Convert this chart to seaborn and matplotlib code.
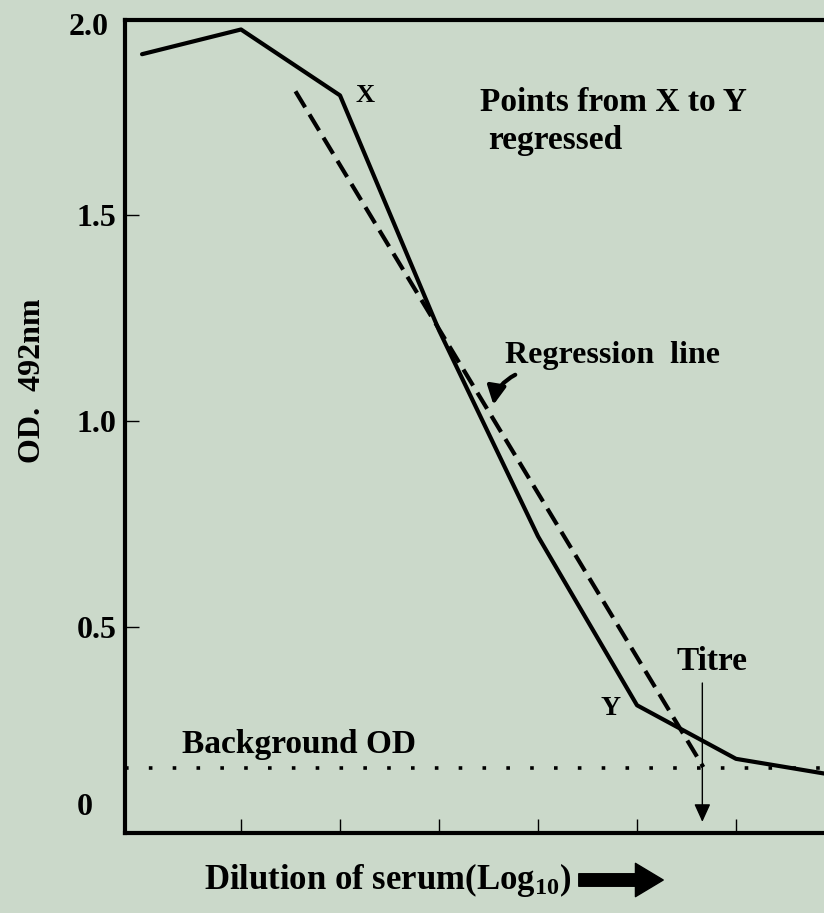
import seaborn as sns
import matplotlib.pyplot as plt
import pandas as pd

# data
dilution = [0, 1, 2, 3, 4, 5, 6, 7]
od = [1.89, 1.95, 1.79, 1.22, 0.72, 0.31, 0.18, 0.14]
reg_x = [1.55, 5.67]
reg_y = [1.80, 0.16]
background_od = 0.158
titre = 5.66
ytick_vals = [0.5, 1.0, 1.5]
ytick_labels = ["0.5", "1.0", "1.5"]
xtick_vals = [1, 2, 3, 4, 5, 6]

bg = "#cbd9ca"
sns.set_theme(style="ticks")
plt.rcParams["font.family"] = ["Liberation Serif", "DejaVu Serif"]
plt.rcParams["font.weight"] = "bold"
plt.rcParams["text.color"] = "black"
plt.rcParams["xtick.color"] = "black"
plt.rcParams["ytick.color"] = "black"
plt.rcParams["mathtext.fontset"] = "custom"
plt.rcParams["mathtext.rm"] = "Liberation Serif:bold"
plt.rcParams["mathtext.it"] = "Liberation Serif:bold"
plt.rcParams["mathtext.bf"] = "Liberation Serif:bold"

df = pd.DataFrame({"dilution": dilution, "od": od})
reg = pd.DataFrame({"x": reg_x, "y": reg_y})

fig = plt.figure(figsize=(8.24, 9.13), dpi=100, facecolor=bg)
ax = fig.add_axes([125 / 824, 80 / 913, 699 / 824, 813 / 913])
ax.set_facecolor(bg)

sns.lineplot(data=df, x="dilution", y="od", color="black", lw=3, ax=ax)
sns.lineplot(data=reg, x="x", y="y", color="black", lw=3, ax=ax,
             dashes=False, linestyle=(0, (4.5, 2)))
ax.axhline(background_od, color="black", lw=2.6,
           linestyle=(0, (1, 5.6)), dash_capstyle="butt")

ax.set_xlim(-0.172, 6.889)
ax.set_ylim(0, 1.973)
ax.set_xticks(xtick_vals)
ax.set_xticklabels([])
ax.set_yticks(ytick_vals)
ax.set_yticklabels(ytick_labels, fontsize=23, fontweight="bold", color="black")
ax.tick_params(axis="both", direction="in", length=10, width=1, color="black")
ax.tick_params(axis="y", pad=6)
for s in ["left", "bottom", "top"]:
    ax.spines[s].set_linewidth(3)
    ax.spines[s].set_color("black")
ax.spines["right"].set_visible(False)
ax.set_xlabel("")
ax.set_ylabel("")

# end labels of the y axis
ax.text(-0.34, 1.956, "2.0", ha="right", va="center", fontsize=23, fontweight="bold")
ax.text(-0.58, 0.063, "0", ha="center", va="center", fontsize=23, fontweight="bold")

# annotations
ax.text(2.25, 1.79, "X", ha="center", va="center", fontsize=19, fontweight="bold")
ax.text(4.73, 0.303, "Y", ha="center", va="center", fontsize=20, fontweight="bold")
ax.text(3.41, 1.772, "Points from X to Y", ha="left", va="center", fontsize=24, fontweight="bold")
ax.text(3.50, 1.68, "regressed", ha="left", va="center", fontsize=24, fontweight="bold")
ax.text(3.67, 1.16, "Regression  line", ha="left", va="center", fontsize=23, fontweight="bold")
ax.text(5.76, 0.415, "Titre", ha="center", va="center", fontsize=24, fontweight="bold")
ax.text(0.40, 0.214, "Background OD", ha="left", va="center", fontsize=24, fontweight="bold")

ax.annotate("", xy=(3.55, 1.039), xytext=(3.77, 1.112),
            arrowprops=dict(arrowstyle="-|>,head_length=0.55,head_width=0.28",
                            lw=3, color="black", mutation_scale=20,
                            shrinkA=0, shrinkB=0,
                            connectionstyle="arc3,rad=0.25"))
ax.annotate("", xy=(titre, 0.027), xytext=(titre, 0.364),
            arrowprops=dict(arrowstyle="-|>,head_length=0.55,head_width=0.25",
                            lw=1, color="black", mutation_scale=20,
                            shrinkA=0, shrinkB=0))

fig.text(204 / 824, 1 - 880 / 913, r"Dilution of serum(Log$_{10}$)",
         ha="left", va="center", fontsize=25, fontweight="bold")
fig.add_artist(plt.matplotlib.patches.FancyArrowPatch(
    (576 / 824, 1 - 880 / 913), (666 / 824, 1 - 880 / 913),
    transform=fig.transFigure,
    arrowstyle="simple,head_length=1.0,head_width=1.2,tail_width=0.45",
    mutation_scale=20, color="black"))
fig.text(33 / 824, 1 - 381 / 913, "OD.  492nm", rotation=90,
         ha="center", va="center", fontsize=23, fontweight="bold")

fig.savefig("out.png", dpi=100, facecolor=bg)
